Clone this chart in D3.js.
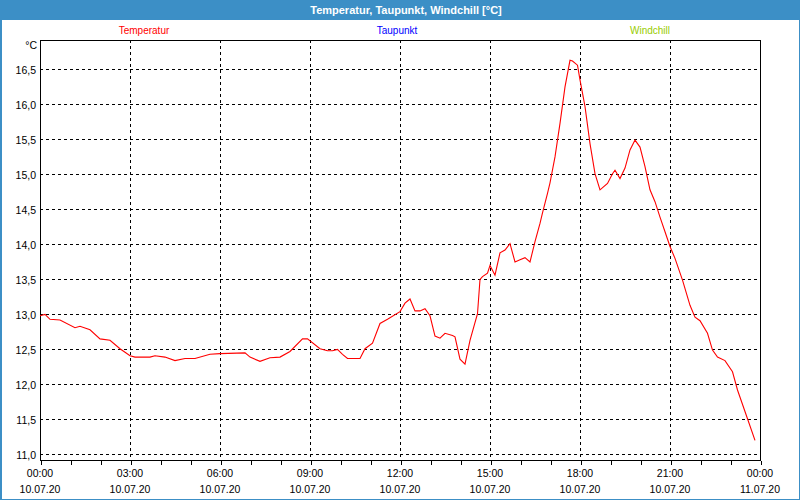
<!DOCTYPE html>
<html>
<head>
<meta charset="utf-8">
<script src="https://cdn.jsdelivr.net/npm/d3@7"></script>
<style>
html,body{margin:0;padding:0;background:#fff;}
svg{display:block;}
text{font-family:"Liberation Sans",Arial,sans-serif;}
</style>
</head>
<body>
<svg id="chart" width="800" height="500"></svg>
<script>
// ---- data ----
const title = "Temperatur, Taupunkt, Windchill [°C]";
const seriesNames = ["Temperatur", "Taupunkt", "Windchill"];
const seriesColors = ["#ff0000", "#0000ff", "#99cc00"];
const yUnit = "°C";
const yTicks = [11.0, 11.5, 12.0, 12.5, 13.0, 13.5, 14.0, 14.5, 15.0, 15.5, 16.0, 16.5];
const xStart = "2020-07-10 00:00";
const xEnd = "2020-07-11 00:00";
const times = [
 "00:00","00:10","00:20","00:40","01:10","01:20","01:40","02:00","02:20","02:40",
 "03:00","03:10","03:40","03:50","04:10","04:30","04:50","05:10","05:40","06:00",
 "06:50","07:00","07:20","07:40","08:00","08:20","08:45","08:55","09:20","09:35",
 "09:45","09:55","10:05","10:15","10:40","10:50","11:05","11:20","11:35","12:00",
 "12:10","12:20","12:30","12:40","12:50","13:00","13:10","13:20","13:30","13:45",
 "13:50","14:00","14:10","14:20","14:35","14:40","14:45","14:55","15:00","15:10",
 "15:20","15:30","15:40","15:50","16:00","16:10","16:20","16:30","16:40","16:45",
 "16:55","17:00","17:10","17:20","17:30","17:40","17:45","17:55","18:00","18:10",
 "18:20","18:30","18:40","18:55","19:05","19:10","19:20","19:30","19:40","19:50",
 "20:00","20:10","20:20","20:30","20:40","20:50","21:00","21:10","21:25","21:40",
 "21:50","22:00","22:15","22:25","22:35","22:50","23:05","23:15","23:35","23:50"
];
const temperatur = [
 12.98,13.00,12.93,12.92,12.81,12.83,12.78,12.65,12.63,12.51,
 12.41,12.39,12.39,12.41,12.39,12.34,12.37,12.37,12.43,12.44,
 12.45,12.39,12.33,12.38,12.39,12.47,12.65,12.65,12.51,12.48,
 12.48,12.50,12.43,12.37,12.37,12.51,12.59,12.87,12.93,13.04,
 13.16,13.22,13.05,13.05,13.08,12.98,12.69,12.66,12.73,12.70,
 12.68,12.36,12.29,12.63,13.01,13.50,13.54,13.59,13.70,13.56,
 13.88,13.92,14.01,13.75,13.78,13.81,13.75,14.04,14.30,14.45,
 14.73,14.88,15.25,15.73,16.25,16.63,16.62,16.56,16.35,15.97,
 15.44,15.01,14.78,14.87,15.01,15.06,14.94,15.09,15.35,15.49,
 15.39,15.11,14.78,14.61,14.39,14.18,13.97,13.80,13.49,13.13,
 12.96,12.91,12.73,12.49,12.39,12.34,12.18,11.92,11.51,11.20
];

// ---- chart ----
const W = 800, H = 500;
const M = {left: 40, right: 760, top: 40, bottom: 460};
const svg = d3.select("#chart");
const parseFull = d3.timeParse("%Y-%m-%d %H:%M");
const t0 = parseFull(xStart), t1 = parseFull(xEnd);
const data = times.map((t, i) => ({t: parseFull("2020-07-10 " + t), v: temperatur[i]}));

const x = d3.scaleTime().domain([t0, t1]).range([M.left, M.right]);
const y = d3.scaleLinear().domain([10.92, 16.92]).range([M.bottom, M.top]);
const px = v => Math.round(v) + 0.5;

// background & frame
svg.append("rect").attr("x", 0).attr("y", 0).attr("width", W).attr("height", H).attr("fill", "#3c8fc6");
svg.append("rect").attr("x", 2).attr("y", 20).attr("width", W - 3).attr("height", H - 21).attr("fill", "#ffffff");

// title
svg.append("text").attr("x", 406).attr("y", 14).attr("text-anchor", "middle")
  .attr("fill", "#ffffff").attr("font-weight", "bold").attr("font-size", "11px").text(title);

// legend labels
const legendX = [144, 397, 650];
seriesNames.forEach((n, i) => {
  svg.append("text").attr("x", legendX[i]).attr("y", 34).attr("text-anchor", "middle")
    .attr("fill", seriesColors[i]).attr("font-size", "10px").text(n);
});

// horizontal grid
const g = svg.append("g");
g.selectAll("line.hg").data(yTicks).join("line")
  .attr("x1", M.left).attr("x2", M.right - 3)
  .attr("y1", d => px(y(d))).attr("y2", d => px(y(d)))
  .attr("stroke", "#000").attr("stroke-dasharray", "3,3").attr("shape-rendering", "crispEdges");

// vertical grid
const majorTicks = d3.timeHour.every(3).range(t0, t1).filter(d => +d !== +t0);
g.selectAll("line.vg").data(majorTicks).join("line")
  .attr("x1", d => px(x(d))).attr("x2", d => px(x(d)))
  .attr("y1", M.top).attr("y2", M.bottom)
  .attr("stroke", "#000").attr("stroke-dasharray", "3,3").attr("shape-rendering", "crispEdges");

// frame
svg.append("rect").attr("x", M.left + 0.5).attr("y", M.top + 0.5)
  .attr("width", M.right - M.left).attr("height", M.bottom - M.top)
  .attr("fill", "none").attr("stroke", "#000").attr("shape-rendering", "crispEdges");

// y axis labels
const fmt = d3.formatLocale({decimal: ",", thousands: ".", grouping: [3], currency: ["", "€"]}).format(".1f");
const yAxis = d3.axisLeft(y).tickValues(yTicks).tickSize(0).tickPadding(4).tickFormat(fmt);
const ya = svg.append("g").attr("transform", `translate(${M.left},0.5)`).call(yAxis);
ya.select(".domain").remove();
ya.selectAll("text").attr("font-size", "10.5px").attr("fill", "#000")
  .attr("font-family", '"Liberation Sans",Arial,sans-serif');
svg.append("text").attr("x", 37).attr("y", 49).attr("text-anchor", "end")
  .attr("font-size", "10.5px").attr("fill", "#000").text(yUnit);

// x axis
const minor = d3.axisBottom(x).ticks(d3.timeHour.every(1)).tickSize(4).tickFormat("");
const xm = svg.append("g").attr("transform", `translate(0.5,${M.bottom + 0.5})`).call(minor);
xm.select(".domain").remove();
xm.selectAll("line").attr("shape-rendering", "crispEdges");

const xTicks = d3.timeHour.every(3).range(t0, d3.timeMinute.offset(t1, 1));
const fTime = d3.timeFormat("%H:%M"), fDate = d3.timeFormat("%d.%m.%y");
const xl = svg.append("g");
xTicks.forEach(d => {
  const t = xl.append("text").attr("x", x(d)).attr("text-anchor", "middle")
    .attr("font-size", "10.5px").attr("fill", "#000");
  t.append("tspan").attr("x", x(d)).attr("y", 477).text(fTime(d));
  t.append("tspan").attr("x", x(d)).attr("y", 493).text(fDate(d));
});

// line
const line = d3.line().x(d => x(d.t)).y(d => y(d.v));
svg.append("path").datum(data).attr("d", line)
  .attr("fill", "none").attr("stroke", seriesColors[0]).attr("stroke-width", 1.1);
</script>
</body>
</html>
